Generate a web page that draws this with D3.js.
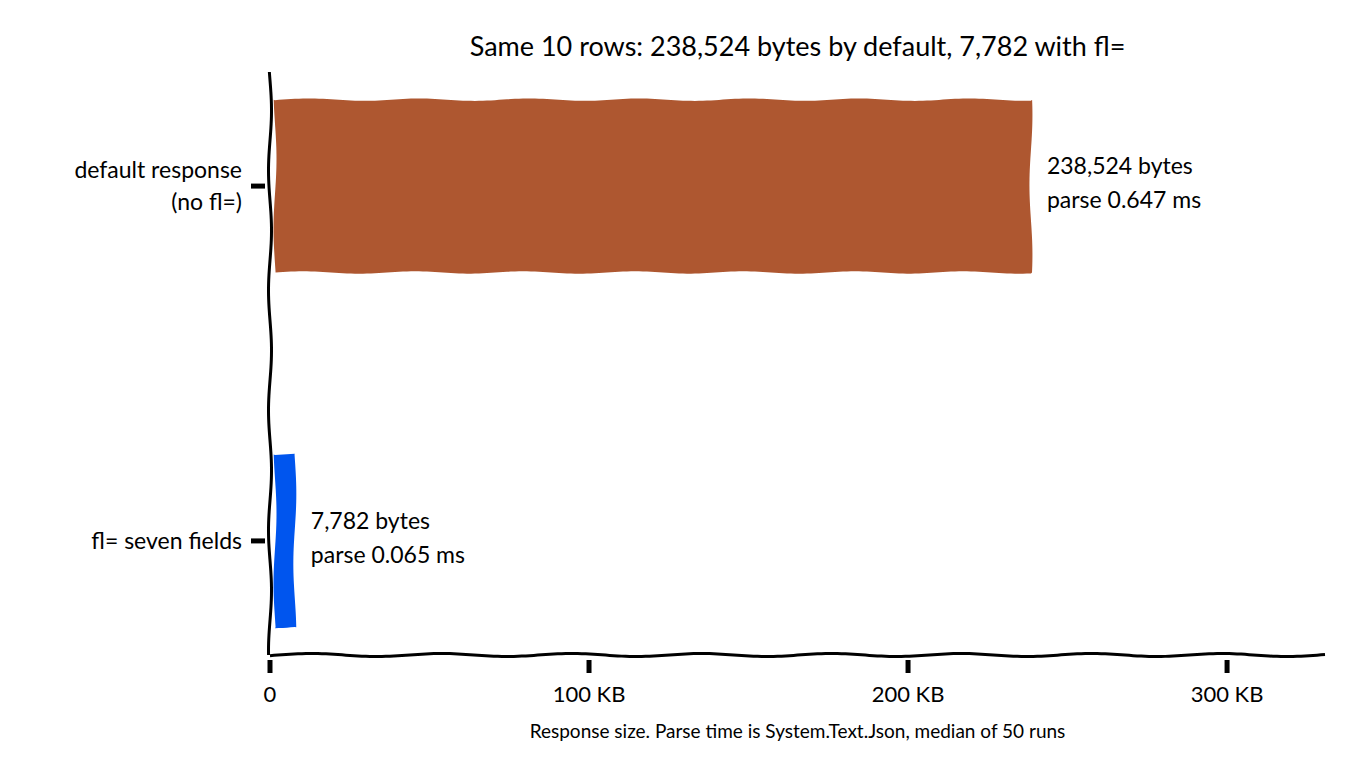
<!DOCTYPE html>
<html><head><meta charset="utf-8">
<script src="https://cdn.jsdelivr.net/npm/d3@7.9.0/dist/d3.min.js"></script>
<style>body{margin:0;background:#fff}text{font-family:"Comic Sans MS","Lato","Noto Sans",sans-serif;fill:#000}</style>
</head><body><svg id="c" width="1360" height="781"></svg>
<script>
// data
const categories = ['fl= seven fields', 'default response\n(no fl=)'];
const bytes = [7782, 238524];
const parseMs = ['0.065', '0.647'];
const colors = ['#0055ee', '#ae5730'];
const xTicks = [0, 100000, 200000, 300000];
const xTickLabels = ['0', '100 KB', '200 KB', '300 KB'];

const svg = d3.select('#c');
const m = {left: 270, right: 1325, top: 72, bottom: 655};

const x = d3.scaleLinear().domain([0, 330700]).range([m.left, m.right]);
const y = d3.scaleBand().domain(categories.slice().reverse()).range([m.top, m.bottom]).paddingInner(0.513).paddingOuter(0.078);

// wiggly path helper
function wig(x0, y0, x1, y1, amp = 2, period = 60) {
  const len = Math.hypot(x1 - x0, y1 - y0), n = Math.max(2, Math.ceil(len / 4));
  const nx = -(y1 - y0) / len, ny = (x1 - x0) / len;
  const pts = d3.range(n + 1).map(i => {
    const t = i / n, o = amp * Math.sin(t * len / period * 2 * Math.PI + x0 * 0.01);
    return [x0 + (x1 - x0) * t + nx * o, y0 + (y1 - y0) * t + ny * o];
  });
  return pts;
}
const line = d3.line();

// bars
categories.forEach((c, i) => {
  const x0 = x(0) + 5, x1 = x(bytes[i]), y0 = y(c), y1 = y0 + y.bandwidth();
  const top = wig(x0, y0, x1, y0, 1.2, 110);
  const right = wig(x1, y0, x1, y1, 1.5, 140);
  const bot = wig(x1, y1, x0, y1, 1.2, 110);
  const left = wig(x0, y1, x0, y0, 1.5, 140);
  svg.append('path').attr('d', line([...top, ...right, ...bot, ...left]) + 'Z').attr('fill', colors[i]);
  const lx = x(bytes[i]) + 16, cy = y0 + y.bandwidth() / 2;
  svg.append('text').attr('x', lx).attr('y', cy - 12).attr('font-size', 23).text(d3.format(',')(bytes[i]) + ' bytes');
  svg.append('text').attr('x', lx).attr('y', cy + 22).attr('font-size', 23).text('parse ' + parseMs[i] + ' ms');
  // y tick + label
  svg.append('line').attr('x1', m.left - 19).attr('x2', m.left - 5).attr('y1', cy).attr('y2', cy).attr('stroke', '#000').attr('stroke-width', 5);
  const lines = c.split('\n');
  lines.forEach((t, k) => svg.append('text').attr('x', m.left - 28).attr('y', cy + 8 + (k - (lines.length - 1) / 2) * 32)
    .attr('text-anchor', 'end').attr('font-size', 23).text(t));
});

// spines
svg.append('path').attr('d', line(wig(m.left, m.top, m.left, m.bottom, 1.5, 120))).attr('fill', 'none').attr('stroke', '#000').attr('stroke-width', 3);
svg.append('path').attr('d', line(wig(m.left, m.bottom, m.right, m.bottom, 1.5, 130))).attr('fill', 'none').attr('stroke', '#000').attr('stroke-width', 3);

// x ticks
xTicks.forEach((t, i) => {
  svg.append('line').attr('x1', x(t)).attr('x2', x(t)).attr('y1', m.bottom + 5).attr('y2', m.bottom + 18).attr('stroke', '#000').attr('stroke-width', 5);
  svg.append('text').attr('x', x(t)).attr('y', m.bottom + 47).attr('text-anchor', 'middle').attr('font-size', 22).text(xTickLabels[i]);
});

svg.append('text').attr('x', (m.left + m.right) / 2).attr('y', 738).attr('text-anchor', 'middle').attr('font-size', 19)
  .text('Response size. Parse time is System.Text.Json, median of 50 runs');
svg.append('text').attr('x', (m.left + m.right) / 2).attr('y', 56).attr('text-anchor', 'middle').attr('font-size', 27)
  .text('Same 10 rows: 238,524 bytes by default, 7,782 with fl=');
</script></body></html>
